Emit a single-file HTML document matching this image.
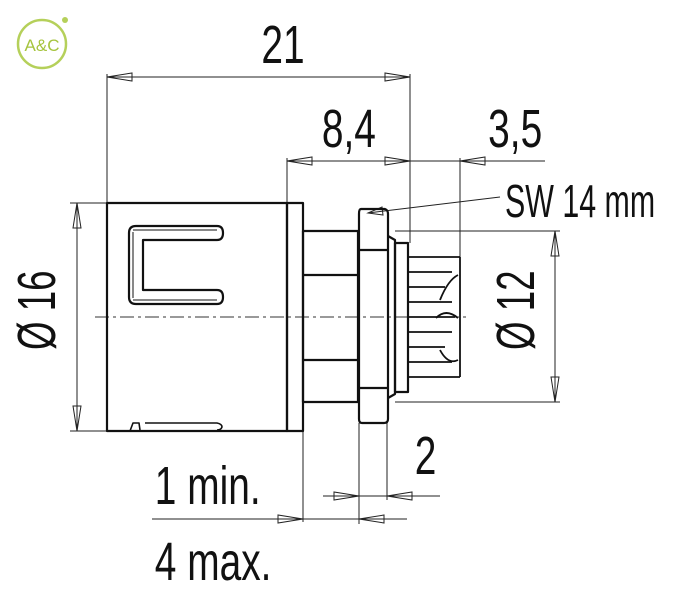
<!DOCTYPE html>
<html><head><meta charset="utf-8"><style>
html,body{margin:0;padding:0;background:#fff;}
svg{display:block}
text{font-family:"Liberation Sans Narrow","Liberation Sans",sans-serif;fill:#111;}
</style></head><body>
<svg width="693" height="600" viewBox="0 0 693 600" xmlns="http://www.w3.org/2000/svg">
<circle cx="42" cy="44" r="24" fill="none" stroke="#b5d05a" stroke-width="2.5"/>
<circle cx="65" cy="20" r="3" fill="#b5d05a"/>
<text x="42" y="51" font-size="17" text-anchor="middle" style="fill:#a6c43e">A&amp;C</text>

<g stroke="#222" stroke-width="1" fill="none">
<line x1="107" y1="74" x2="107" y2="203"/>
<line x1="410" y1="74" x2="410" y2="243"/>
<line x1="287" y1="158" x2="287" y2="203"/>
<line x1="460" y1="158" x2="460" y2="257"/>
<line x1="70" y1="203" x2="107" y2="203"/>
<line x1="70" y1="431" x2="107" y2="431"/>
<line x1="395" y1="231" x2="560" y2="231"/>
<line x1="395" y1="402" x2="560" y2="402"/>
<line x1="303" y1="432" x2="303" y2="522"/>
<line x1="359" y1="423" x2="359" y2="524"/>
<line x1="387" y1="423" x2="387" y2="500"/>
<line x1="107" y1="77" x2="410" y2="77"/>
<line x1="287" y1="161" x2="545" y2="161"/>
<line x1="77" y1="203" x2="77" y2="431"/>
<line x1="555" y1="231" x2="555" y2="402"/>
<line x1="323" y1="496" x2="440" y2="496"/>
<line x1="152" y1="519" x2="407" y2="519"/>
<line x1="368" y1="213" x2="500" y2="197"/>
<polygon points="107,77 132,73 132,81"/>
<polygon points="410,77 385,73 385,81"/>
<polygon points="287,161 312,157 312,165"/>
<polygon points="410,161 385,157 385,165"/>
<polygon points="460,161 485,157 485,165"/>
<polygon points="77,203 73,228 81,228"/>
<polygon points="77,431 73,406 81,406"/>
<polygon points="555,231 551,256 559,256"/>
<polygon points="555,402 551,377 559,377"/>
<polygon points="359,496 334,492 334,500"/>
<polygon points="387,496 412,492 412,500"/>
<polygon points="303,519 278,515 278,523"/>
<polygon points="359,519 384,515 384,523"/>
<polygon points="368,213 382,207 383,215"/>
</g>
<line x1="95" y1="317" x2="470" y2="317" stroke="#333" stroke-width="1" stroke-dasharray="14,4,3,4"/>

<g stroke="#111" stroke-width="2.2" fill="none" stroke-linejoin="round">
<rect x="107" y="203" width="180" height="228"/>
<rect x="287" y="203" width="16" height="228"/>
<path d="M217,226 L136,226 Q129,226 129,233 L129,297 Q129,304 136,304 L217,304 Q223,304 223,297 Q223,290 217,290 L143,290 L143,240 L217,240 Q223,240 223,233 Q223,226 217,226 Z"/>
<path d="M133,230 L217,230 M133,300 L217,300 M133,232 L133,298" stroke-width="1"/>
<path d="M130,431 L133,423 L139,423 L140,430 M145,423 L217,423 Q222,424 222,427 Q221,430 217,430" stroke-width="1.6"/>
<rect x="303" y="231" width="55" height="171"/>
<line x1="303" y1="275" x2="358" y2="275"/>
<line x1="303" y1="360" x2="358" y2="360"/>
<path d="M361,209 L385,209 Q388,210 388,214 L388,419 Q388,423 384,423 L362,423 Q359,423 359,419 L359,214 Q359,209 361,209 Z"/>
<line x1="359" y1="250" x2="388" y2="250"/>
<line x1="359" y1="388" x2="388" y2="388"/>
<path d="M388,236 L395,240 L395,394 L388,398"/>
<rect x="395" y="243" width="13" height="149"/>
<g stroke-width="1.8">
<line x1="408" y1="257" x2="460" y2="257"/>
<line x1="408" y1="377" x2="460" y2="377"/>
<line x1="408" y1="272" x2="452" y2="272"/>
<line x1="408" y1="287" x2="445" y2="287"/>
<line x1="408" y1="302" x2="452" y2="302"/>
<line x1="408" y1="317" x2="455" y2="317"/>
<line x1="408" y1="332" x2="452" y2="332"/>
<line x1="408" y1="347" x2="445" y2="347"/>
<line x1="408" y1="362" x2="452" y2="362"/>
<path d="M460,257 L460,377"/>
<path d="M440,300 Q448,280 458,275 M440,350 Q448,365 458,360 M436,318 Q446,308 458,318"/>
</g>
</g>

<g transform="scale(0.72,1)">
<text x="363" y="63" font-size="54">21</text>
<text x="447" y="147" font-size="54">8,4</text>
<text x="678" y="147" font-size="54">3,5</text>
<text x="576" y="474" font-size="54">2</text>
<text x="215" y="504" font-size="54">1 min.</text>
<text x="215" y="580" font-size="54">4 max.</text>
</g>
<text transform="translate(505,217) scale(0.66,1)" font-size="46">SW 14 mm</text>
<text transform="translate(55,350) rotate(-90) scale(0.68,1)" font-size="54">Ø 16</text>
<text transform="translate(534,350) rotate(-90) scale(0.68,1)" font-size="54">Ø 12</text>
</svg>
</body></html>
